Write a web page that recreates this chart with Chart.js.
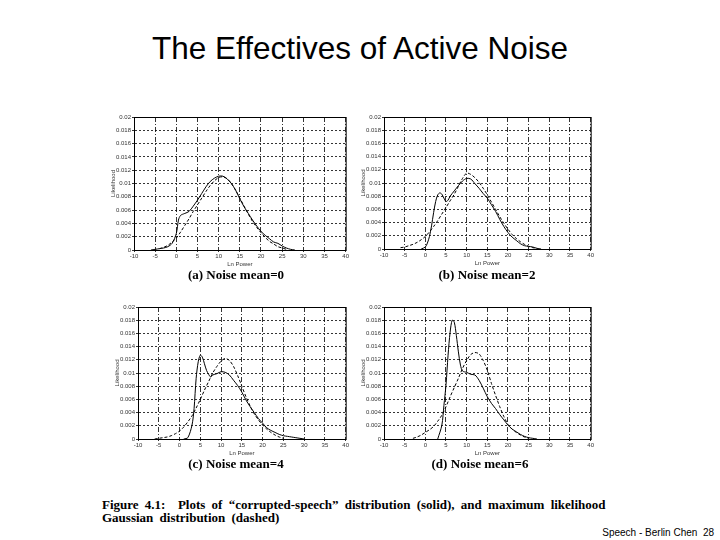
<!DOCTYPE html>
<html>
<head>
<meta charset="utf-8">
<script src="https://cdn.jsdelivr.net/npm/chart.js@4"></script>
<style>
  body { margin: 0; width: 720px; height: 540px; background: #fff; position: relative; overflow: hidden; }
  .box { position: absolute; }
  .txt { position: absolute; white-space: nowrap; color: #000; }
  #title { left: 0; width: 720px; top: 30px; text-align: center; font: 31.5px "Liberation Sans", Arial, sans-serif; }
  .sub { font: bold 13px "Liberation Serif", serif; transform: translateX(-50%); }
  .cap { left: 102px; font: bold 13px "Liberation Serif", serif; word-spacing: 3px; }
  #foot { right: 6px; top: 527px; font: 10px "Liberation Sans", Arial, sans-serif; }
</style>
</head>
<body>
<div id="title" class="txt">The Effectives of Active Noise</div>

<div class="box" style="left:110px;top:112px;width:240px;height:156px"><canvas id="pa"></canvas></div>
<div class="box" style="left:360px;top:112px;width:235px;height:155px"><canvas id="pb"></canvas></div>
<div class="box" style="left:114px;top:302px;width:236px;height:155px"><canvas id="pc"></canvas></div>
<div class="box" style="left:360px;top:302px;width:235px;height:155px"><canvas id="pd"></canvas></div>

<div class="txt sub" style="left:236px;top:267px">(a) Noise mean=0</div>
<div class="txt sub" style="left:487px;top:267px">(b) Noise mean=2</div>
<div class="txt sub" style="left:236px;top:456px">(c) Noise mean=4</div>
<div class="txt sub" style="left:480px;top:456px">(d) Noise mean=6</div>

<div class="txt cap" style="top:497px">Figure 4.1:&nbsp; Plots of “corrupted-speech” distribution (solid), and maximum likelihood</div>
<div class="txt cap" style="top:510px">Gaussian distribution (dashed)</div>
<div id="foot" class="txt">Speech - Berlin Chen&nbsp; 28</div>

<script>
// x axis: log power, y axis: likelihood
const powerTicks = [-10, -5, 0, 5, 10, 15, 20, 25, 30, 35, 40];
const likeTicks = [0, 0.002, 0.004, 0.006, 0.008, 0.01, 0.012, 0.014, 0.016, 0.018, 0.02];

// (a) noise mean = 0
const aSolidX = [-6, -5, -4, -3, -2, -1, 0, 0.5, 1, 2, 3, 4, 5, 6, 7, 8, 9, 10, 11, 12, 13, 14, 15, 16, 17, 18, 19, 20, 21, 22, 23, 24, 25, 26, 27, 28];
const aSolidY = [0, 0.0001, 0.0002, 0.0003, 0.0005, 0.001, 0.0025, 0.0045, 0.0052, 0.0055, 0.0058, 0.0066, 0.0075, 0.0085, 0.0095, 0.0103, 0.0108, 0.0111, 0.0111, 0.0107, 0.01, 0.009, 0.0077, 0.0065, 0.0055, 0.0045, 0.0036, 0.0028, 0.0022, 0.0017, 0.0012, 0.001, 0.0006, 0.0003, 0.0001, 0];
const aDashX = [-4, -3, -2, -1, 0, 1, 2, 3, 4, 5, 6, 7, 8, 9, 10, 11, 12, 13, 14, 15, 16, 17, 18, 19, 20, 21, 22, 23, 24, 25, 26];
const aDashY = [0.0002, 0.0004, 0.0007, 0.0012, 0.0018, 0.0027, 0.0037, 0.0047, 0.0058, 0.0068, 0.0078, 0.0088, 0.0097, 0.0104, 0.0109, 0.011, 0.0107, 0.01, 0.009, 0.0078, 0.0066, 0.0054, 0.0043, 0.0034, 0.0026, 0.0019, 0.0013, 0.0009, 0.0005, 0.0003, 0.0001];

// (b) noise mean = 2
const bSolidX = [-1, 0, 0.5, 1, 1.5, 2, 2.5, 3, 3.5, 4, 4.5, 5, 5.5, 6, 7, 8, 9, 10, 11, 12, 13, 14, 15, 16, 17, 18, 19, 20, 21, 22, 23, 24, 25, 26, 27, 28];
const bSolidY = [0, 0.0003, 0.0009, 0.0019, 0.0035, 0.0055, 0.0072, 0.0082, 0.0085, 0.0083, 0.0077, 0.0072, 0.0074, 0.008, 0.0088, 0.0096, 0.0103, 0.0107, 0.0106, 0.0099, 0.0092, 0.0084, 0.0077, 0.0067, 0.0057, 0.0045, 0.0034, 0.0025, 0.0018, 0.0013, 0.0008, 0.0005, 0.0004, 0.0003, 0.0001, 0];
const bDashX = [-6, -5, -4, -3, -2, -1, 0, 1, 2, 3, 4, 5, 6, 7, 8, 9, 10, 11, 12, 13, 14, 15, 16, 17, 18, 19, 20, 21, 22, 23, 24, 25, 26, 27];
const bDashY = [0.0002, 0.0003, 0.0005, 0.0007, 0.001, 0.0014, 0.0019, 0.0026, 0.0034, 0.0043, 0.0053, 0.0063, 0.0073, 0.0083, 0.0095, 0.0107, 0.0115, 0.0113, 0.0108, 0.0101, 0.0092, 0.0082, 0.0071, 0.006, 0.0049, 0.0039, 0.003, 0.0022, 0.0016, 0.0011, 0.0007, 0.0004, 0.0002, 0.0001];

// (c) noise mean = 4
const cSolidX = [1, 2, 3, 3.5, 4, 4.5, 5, 5.5, 6, 6.5, 7, 7.5, 8, 9, 10, 11, 12, 13, 14, 15, 16, 17, 18, 19, 20, 21, 22, 23, 24, 25, 26, 27, 28, 29, 30];
const cSolidY = [0, 0.0002, 0.0021, 0.0046, 0.0092, 0.0117, 0.0127, 0.0124, 0.0114, 0.0104, 0.0098, 0.0094, 0.0097, 0.0099, 0.0102, 0.0101, 0.0097, 0.0089, 0.0081, 0.0071, 0.0059, 0.0049, 0.004, 0.0031, 0.0024, 0.0017, 0.0013, 0.001, 0.0007, 0.0005, 0.0004, 0.0003, 0.0002, 0.0001, 0];
const cDashX = [-6, -5, -4, -3, -2, -1, 0, 1, 2, 3, 4, 5, 6, 7, 8, 9, 10, 11, 12, 13, 14, 15, 16, 17, 18, 19, 20, 21, 22, 23, 24, 25];
const cDashY = [0, 0.0001, 0.0002, 0.0003, 0.0005, 0.0008, 0.0012, 0.0018, 0.0026, 0.0035, 0.0047, 0.006, 0.0074, 0.0087, 0.01, 0.011, 0.0118, 0.0122, 0.0119, 0.011, 0.0096, 0.008, 0.0064, 0.005, 0.0038, 0.0029, 0.0021, 0.0015, 0.001, 0.0006, 0.0003, 0.0001];

// (d) noise mean = 6
const dSolidX = [3, 4, 4.5, 5, 5.5, 6, 6.5, 7, 7.5, 8, 8.5, 9, 10, 11, 12, 13, 14, 15, 16, 17, 18, 19, 20, 21, 22, 23, 24, 25, 26, 27];
const dSolidY = [0, 0.0021, 0.0051, 0.0082, 0.0127, 0.0162, 0.018, 0.0177, 0.0157, 0.0132, 0.0112, 0.0103, 0.0101, 0.0098, 0.0097, 0.0089, 0.0077, 0.0064, 0.0054, 0.0046, 0.0037, 0.0029, 0.0021, 0.0015, 0.0011, 0.0007, 0.0004, 0.0002, 0.0001, 0];
const dDashX = [-3, -2, -1, 0, 1, 2, 3, 4, 5, 6, 7, 8, 9, 10, 11, 12, 13, 14, 15, 16, 17, 18, 19, 20, 21, 22, 23, 24, 25];
const dDashY = [0.0001, 0.0003, 0.0006, 0.001, 0.0014, 0.0019, 0.0027, 0.0036, 0.0049, 0.0064, 0.0078, 0.0092, 0.0107, 0.0119, 0.0128, 0.0131, 0.0129, 0.0119, 0.0104, 0.0084, 0.0066, 0.0049, 0.0034, 0.0022, 0.0015, 0.001, 0.0006, 0.0003, 0.0001];

const pts = (xs, ys) => xs.map((x, i) => ({ x: x, y: ys[i] }));

// solid frame round the plot area
const frame = {
  id: 'frame',
  afterDraw(chart) {
    const a = chart.chartArea, ctx = chart.ctx;
    ctx.save();
    ctx.strokeStyle = '#000';
    ctx.lineWidth = 1;
    ctx.strokeRect(a.left + 0.5, a.top + 0.5, a.right - a.left, a.bottom - a.top);
    ctx.restore();
  }
};

const tickFont = { family: 'Liberation Sans', size: 6 };

function panel(id, sx, sy, dx, dy) {
  new Chart(document.getElementById(id), {
    type: 'line',
    data: {
      datasets: [
        { data: pts(sx, sy), borderColor: '#000', borderWidth: 1, pointRadius: 0, tension: 0.3 },
        { data: pts(dx, dy), borderColor: '#000', borderWidth: 1, borderDash: [3, 2], pointRadius: 0, tension: 0.3 }
      ]
    },
    options: {
      responsive: true,
      maintainAspectRatio: false,
      animation: false,
      events: [],
      layout: { padding: { top: 5, right: 3, left: 0, bottom: 0 } },
      plugins: { legend: { display: false }, tooltip: { enabled: false } },
      scales: {
        x: {
          type: 'linear', min: -10, max: 40,
          afterBuildTicks: s => { s.ticks = powerTicks.map(v => ({ value: v })); },
          afterFit: s => { s.height = 18; },
          grid: { color: '#000', lineWidth: 0.8, tickLength: 2 },
          border: { color: '#000', dash: [5, 2, 1, 2] },
          ticks: { font: tickFont, color: '#333', maxRotation: 0, padding: 1 },
          title: { display: true, text: 'Ln Power', font: tickFont, color: '#333', padding: 0 }
        },
        y: {
          min: 0, max: 0.02,
          afterBuildTicks: s => { s.ticks = likeTicks.map(v => ({ value: v })); },
          afterFit: s => { s.width = 24; },
          grid: { color: '#000', lineWidth: 0.8, tickLength: 2 },
          border: { color: '#000', dash: [2, 2] },
          ticks: { font: tickFont, color: '#333', padding: 1, callback: v => String(Number(v.toFixed(3))) },
          title: { display: true, text: 'Likelihood', font: tickFont, color: '#333', padding: 0 }
        }
      }
    },
    plugins: [frame]
  });
}

panel('pa', aSolidX, aSolidY, aDashX, aDashY);
panel('pb', bSolidX, bSolidY, bDashX, bDashY);
panel('pc', cSolidX, cSolidY, cDashX, cDashY);
panel('pd', dSolidX, dSolidY, dDashX, dDashY);
</script>
</body>
</html>
